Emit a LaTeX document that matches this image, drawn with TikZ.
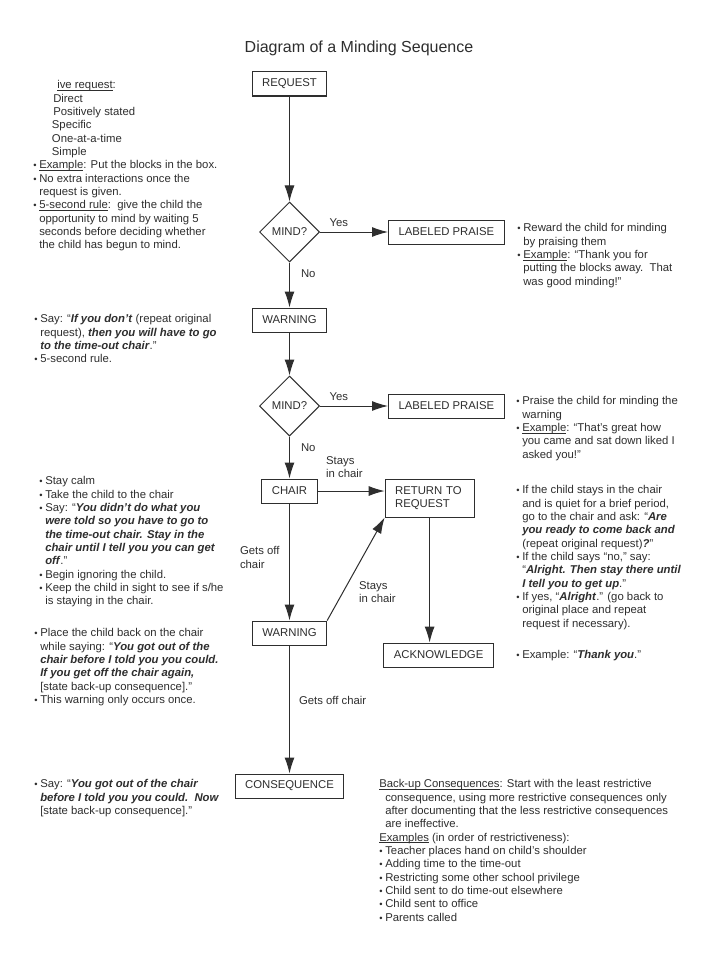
\documentclass[tikz,border=0pt]{standalone}
\usepackage{fontspec}
\setmainfont{Liberation Sans}
\usetikzlibrary{positioning,shapes.geometric,arrows.meta}
\definecolor{ink}{gray}{0.18}
\newsavebox\ulbox
\newcommand\ul[1]{\sbox\ulbox{#1}\rlap{\rule[-1.3pt]{\wd\ulbox}{0.45pt}}\usebox\ulbox}
\newcommand\bul{\makebox[4.5pt][l]{\fontsize{7}{7}\selectfont\textbullet}}
\newcommand\hind{\hspace*{4.5pt}}
\newcommand\sayb[1]{\textbf{\textit{#1}}}

\begin{document}
\begin{tikzpicture}[
  x=0.75pt, y=-0.75pt,
  node distance=1cm and 1cm,
  box/.style={draw=ink,line width=0.75pt,inner xsep=7.5pt,minimum height=18pt,text=ink},
  dec/.style={draw=ink,line width=0.75pt,diamond,aspect=1,minimum width=45pt,minimum height=45pt,inner sep=0pt,text=ink},
  note/.style={anchor=north west,align=left,inner sep=0pt,text=ink},
  lbl/.style={inner sep=0pt,align=left,text=ink},
  flow/.style={draw=ink,line width=0.75pt,-{Latex[length=12pt,width=7.5pt]}},
  font=\fontsize{8.5}{10}\selectfont
]
\fill[white] (0,0) rectangle (721,974);
\useasboundingbox (0,0) rectangle (721,974);
\node[text=ink,font=\fontsize{12}{14}\selectfont] (title) at (359,48) {Diagram of a Minding Sequence};
\node[box] (req) at (289.5,84) {REQUEST};
\node[dec,below=78.75pt of req] (d1) {MIND?};
\node[box,right=51pt of d1] (lp1) {LABELED PRAISE};
\node[box,below=33.75pt of d1] (w1) {WARNING};
\node[dec,below=32.25pt of w1] (d2) {MIND?};
\node[box,right=51pt of d2] (lp2) {LABELED PRAISE};
\node[box,below=31.5pt of d2] (chair) {CHAIR};
\node[box,align=left,text width=51.75pt,minimum height=28.5pt,right=50.25pt of chair.north east,anchor=north west] (ret) {RETURN TO\\REQUEST};
\node[box,below=93.75pt of ret,xshift=6.75pt] (ack) {ACKNOWLEDGE};
\node[box,below=87.75pt of chair] (w2) {WARNING};
\node[box,below=96pt of w2] (cons) {CONSEQUENCE};

\node[note] (n-req) at (33,80.5) {%
\hspace*{18pt}\ul{ive request}:\\
\hspace*{15pt}Direct\\
\hspace*{15pt}Positively stated\\
\hspace*{14pt}Specific\\
\hspace*{14pt}One-at-a-time\\
\hspace*{14pt}Simple\\
\bul\ul{Example}: Put the blocks in the box.\\
\bul No extra interactions once the\\
\hind request is given.\\
\bul\ul{5-second rule}:\ \ give the child the\\
\hind opportunity to mind by waiting 5\\
\hind seconds before deciding whether\\
\hind the child has begun to mind.};
\node[note] (n-lp1) at (517,223.5) {%
\bul Reward the child for minding\\
\hind by praising them\\
\bul\ul{Example}: ``Thank you for\\
\hind putting the blocks away.\ \ That\\
\hind was good minding!''};
\node[note] (n-w1) at (34,314.5) {%
\bul Say: ``\sayb{If you don't} (repeat original\\
\hind request), \sayb{then you will have to go}\\
\hind\sayb{to the time-out chair}.''\\
\bul 5-second rule.};
\node[note] (n-lp2) at (516,396.5) {%
\bul Praise the child for minding the\\
\hind warning\\
\bul\ul{Example}: ``That's great how\\
\hind you came and sat down liked I\\
\hind asked you!''};
\node[note] (n-chair) at (39,476.5) {%
\bul Stay calm\\
\bul Take the child to the chair\\
\bul Say: ``\sayb{You didn't do what you}\\
\hind\sayb{were told so you have to go to}\\
\hind\sayb{the time-out chair. Stay in the}\\
\hind\sayb{chair until I tell you you can get}\\
\hind\sayb{off}.''\\
\bul Begin ignoring the child.\\
\bul Keep the child in sight to see if s/he\\
\hind is staying in the chair.};
\node[note] (n-w2) at (34,628.5) {%
\bul Place the child back on the chair\\
\hind while saying: ``\sayb{You got out of the}\\
\hind\sayb{chair before I told you you could.}\\
\hind\sayb{If you get off the chair again,}\\
\hind[state back-up consequence].''\\
\bul This warning only occurs once.};
\node[note] (n-ret) at (516,485.5) {%
\bul If the child stays in the chair\\
\hind and is quiet for a brief period,\\
\hind go to the chair and ask: ``\sayb{Are}\\
\hind\sayb{you ready to come back and}\\
\hind(repeat original request)\sayb{?}''\\
\bul If the child says ``no,'' say:\\
\hind``\sayb{Alright. Then stay there until}\\
\hind\sayb{I tell you to get up}.''\\
\bul If yes, ``\sayb{Alright}.'' (go back to\\
\hind original place and repeat\\
\hind request if necessary).};
\node[note] (n-ack) at (516,650.5) {\bul Example: ``\sayb{Thank you}.''};
\node[note] (n-cons) at (34,779.5) {%
\bul Say: ``\sayb{You got out of the chair}\\
\hind\sayb{before I told you you could.\ \ Now}\\
\hind[state back-up consequence].''};
\node[note] (n-backup) at (379,779.5) {%
\ul{Back-up Consequences}: Start with the least restrictive\\
\hind consequence, using more restrictive consequences only\\
\hind after documenting that the less restrictive consequences\\
\hind are ineffective.\\
\ul{Examples} (in order of restrictiveness):\\
\bul Teacher places hand on child's shoulder\\
\bul Adding time to the time-out\\
\bul Restricting some other school privilege\\
\bul Child sent to do time-out elsewhere\\
\bul Child sent to office\\
\bul Parents called};

\path (req) edge[flow] (d1)
(d1) edge[flow] node[lbl,pos=0,anchor=base west,xshift=6.75pt,yshift=4.5pt] {Yes} (lp1)
(d1) edge[flow] node[lbl,pos=0,anchor=base west,xshift=8.25pt,yshift=-11.25pt] {No} (w1)
(w1) edge[flow] (d2)
(d2) edge[flow] node[lbl,pos=0,anchor=base west,xshift=6.75pt,yshift=4.5pt] {Yes} (lp2)
(d2) edge[flow] node[lbl,pos=0,anchor=base west,xshift=8.25pt,yshift=-11.25pt] {No} (chair)
(chair.east) edge[flow] node[lbl,pos=0,anchor=north west,xshift=6pt,yshift=26.25pt] {Stays\\in chair} (chair.east -| ret.west)
(chair) edge[flow] node[lbl,pos=0,anchor=north west,xshift=-37.5pt,yshift=-31.9pt] {Gets off\\chair} (w2)
(w2.north east) edge[flow] node[lbl,pos=0,anchor=north west,xshift=23.6pt,yshift=29.6pt] {Stays\\in chair} (ret.south west)
(ret.south) edge[flow] (ret.south |- ack.north)
(w2) edge[flow] node[lbl,pos=0,anchor=base west,xshift=6.75pt,yshift=-44.25pt] {Gets off chair} (cons);
\end{tikzpicture}
\end{document}
